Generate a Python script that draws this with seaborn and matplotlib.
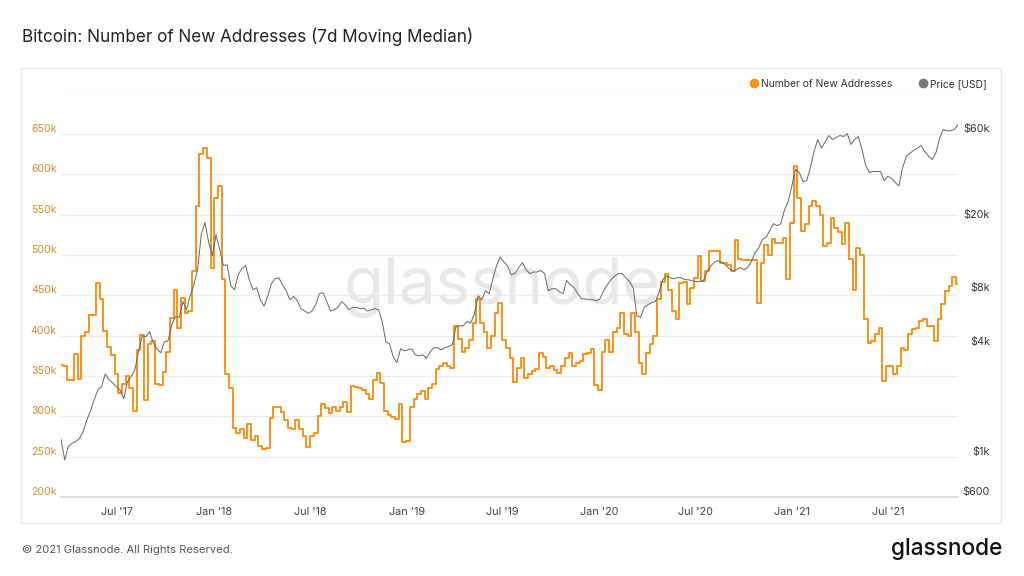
import matplotlib.pyplot as plt
import matplotlib.patches as patches
from matplotlib.lines import Line2D
from matplotlib.ticker import NullLocator
import pandas as pd
import seaborn as sns


# Weekly readings, starting mid-March 2017
new_addresses_k = [
    363, 362, 345, 345, 377, 346, 400, 405, 425, 425,
    465, 445, 406, 386, 376, 353, 329, 340, 350, 335,
    307, 382, 401, 320, 390, 393, 340, 339, 355, 380,
    422, 456, 410, 447, 428, 430, 480, 560, 625, 632,
    620, 484, 570, 585, 470, 352, 335, 285, 279, 284,
    273, 290, 271, 275, 263, 259, 261, 298, 312, 312,
    305, 295, 286, 284, 296, 284, 276, 262, 276, 279,
    300, 315, 310, 304, 312, 307, 312, 318, 305, 338,
    336, 335, 332, 328, 322, 345, 354, 341, 306, 302,
    299, 297, 315, 268, 270, 311, 322, 328, 331, 322,
    335, 340, 359, 362, 366, 362, 360, 412, 396, 380,
    385, 395, 416, 445, 415, 405, 385, 400, 428, 440,
    395, 385, 372, 342, 360, 372, 348, 352, 356, 358,
    379, 373, 360, 362, 357, 354, 362, 372, 378, 362,
    366, 368, 377, 378, 383, 339, 333, 380, 395, 380,
    405, 410, 428, 402, 400, 428, 405, 366, 353, 378,
    389, 400, 445, 467, 476, 457, 430, 420, 465, 467,
    439, 459, 471, 499, 468, 480, 505, 505, 505, 490,
    490, 488, 480, 519, 495, 494, 494, 494, 494, 441,
    490, 512, 500, 520, 515, 515, 521, 470, 540, 610,
    571, 530, 538, 560, 567, 560, 550, 511, 515, 546,
    533, 528, 513, 540, 495, 457, 509, 500, 420, 391,
    393, 402, 410, 344, 362, 362, 353, 362, 385, 382,
    402, 408, 410, 418, 420, 412, 412, 393, 420, 439,
    455, 462, 472, 464,
]

price_usd = [
    1250, 960, 1140, 1185, 1211, 1260, 1375, 1595, 1790, 2056,
    2340, 2430, 2860, 2650, 2550, 2430, 2334, 2080, 2590, 2760,
    3009, 3780, 4630, 4580, 4880, 4230, 3930, 3730, 4290, 4350,
    5330, 5900, 5850, 7150, 6450, 7700, 8850, 10700, 16700, 19500,
    15100, 12800, 16700, 13800, 11300, 11400, 8740, 8310, 10050, 10850,
    11300, 9430, 8310, 8530, 7320, 6740, 7640, 8970, 9550, 9680,
    8850, 8200, 7320, 7640, 7230, 6530, 6340, 6160, 6340, 6870,
    7900, 8000, 7150, 6340, 6450, 6650, 7150, 6870, 6450, 6650,
    6650, 6530, 6590, 6340, 6450, 6530, 6450, 5560, 4290, 4190,
    3540, 3300, 3930, 3830, 3880, 3930, 3640, 3590, 3640, 3480,
    3780, 3980, 3980, 3880, 3980, 4040, 4130, 5200, 5260, 5260,
    5560, 5440, 6130, 7700, 7320, 8200, 7900, 9550, 11300, 12600,
    11800, 11200, 10050, 10200, 11000, 11700, 10700, 10200, 10400, 10400,
    10600, 10200, 8200, 8420, 8420, 8090, 7900, 9320, 8850, 8530,
    7900, 7400, 7400, 7320, 7320, 7230, 7400, 8200, 8850, 9430,
    9900, 10200, 10200, 9680, 9200, 8530, 5970, 5850, 6650, 6870,
    7050, 7150, 8000, 9430, 9900, 9680, 9550, 9680, 9680, 9430,
    9430, 9300, 9200, 9200, 9300, 10400, 11200, 11800, 12000, 11800,
    11400, 10850, 10550, 10700, 11000, 10700, 11000, 11850, 13300, 14100,
    15700, 16100, 17600, 19200, 18700, 19200, 22900, 25400, 31100, 38100,
    36700, 32700, 33100, 39100, 47900, 55800, 50100, 54100, 58700, 55800,
    57200, 58700, 58000, 60100, 52400, 55800, 58000, 49100, 40100, 36700,
    37200, 37200, 37200, 33100, 35000, 34200, 32300, 31000, 39100, 45000,
    47000, 48600, 50100, 51700, 47900, 45200, 43300, 47000, 56500, 63300,
    62400, 62400, 63300, 67500,
]

dates = pd.date_range("2017-03-16", periods=len(new_addresses_k), freq="7D")

left_ticks = [200, 250, 300, 350, 400, 450, 500, 550, 600, 650, 700]
left_labels = ["200k", "250k", "300k", "350k", "400k", "450k",
               "500k", "550k", "600k", "650k", ""]
price_ticks = [600, 1000, 4000, 8000, 20000, 60000]
price_labels = ["$600", "$1k", "$4k", "$8k", "$20k", "$60k"]
month_ticks = ["2017-07-01", "2018-01-01", "2018-07-01", "2019-01-01", "2019-07-01",
               "2020-01-01", "2020-07-01", "2021-01-01", "2021-07-01"]
month_labels = ["Jul '17", "Jan '18", "Jul '18", "Jan '19", "Jul '19",
                "Jan '20", "Jul '20", "Jan '21", "Jul '21"]

df = pd.DataFrame({"date": dates, "new_addresses": new_addresses_k, "price": price_usd})

ORANGE = "#f7931a"
ORANGE_TXT = "#dd8a2c"
GREY = "#666666"

sns.set_theme(style="white")
plt.rcParams["font.family"] = ["Inter", "DejaVu Sans"]

fig = plt.figure(figsize=(10.24, 5.76), dpi=100)
ax = fig.add_axes([61 / 1024, 1 - 497 / 576, 897 / 1024, 403.5 / 576])

# panel frame
fig.patches.append(patches.Rectangle((21 / 1024, 1 - 523 / 576), 980 / 1024, 455 / 576,
                                     transform=fig.transFigure, fill=False,
                                     edgecolor="#e6e6e6", linewidth=1))

# watermark
ax.text(0.492, 0.52, "glassnode", transform=ax.transAxes, ha="center", va="center",
        fontsize=47, color="#e8e8e8", zorder=1)

sns.lineplot(data=df, x="date", y="new_addresses", ax=ax, color=ORANGE, linewidth=1.4,
             drawstyle="steps-mid", zorder=3)
ax2 = ax.twinx()
sns.lineplot(data=df, x="date", y="price", ax=ax2, color=GREY, linewidth=0.7)
ax2.set_yscale("log")
ax2.set_ylim(600, 100000)
ax.set_ylim(200, 700)
ax.set_xlim(dates[0], dates[-1])

# left axis
ax.set_yticks(left_ticks)
ax.set_yticklabels(left_labels, color=ORANGE_TXT, fontsize=7.6)
ax.tick_params(axis="y", length=0, pad=3)
for lbl in ax.get_yticklabels():
    lbl.set_verticalalignment("bottom")

# right axis (price)
ax2.yaxis.set_minor_locator(NullLocator())
ax2.set_yticks(price_ticks)
ax2.set_yticklabels(price_labels, color="#333333", fontsize=7.8)
ax2.tick_params(axis="y", length=0, pad=23)
for lbl in ax2.get_yticklabels():
    lbl.set_horizontalalignment("right")
    lbl.set_verticalalignment("bottom")

# x axis
ax.set_xticks(pd.to_datetime(month_ticks))
ax.set_xticklabels(month_labels)
ax.tick_params(axis="x", length=4, width=0.8, color="#d9d9d9", labelsize=7.8,
               labelcolor="#444444", pad=3)

ax.grid(axis="y", color="#ececec", linewidth=0.8)
ax.grid(axis="x", visible=False)
for s in ax.spines.values():
    s.set_visible(False)
ax.spines["bottom"].set_visible(True)
ax.spines["bottom"].set_color("#dcdcdc")
for s in ax2.spines.values():
    s.set_visible(False)

ax.set_xlabel("")
ax.set_ylabel("")
ax2.set_ylabel("")

# legend
handles = [Line2D([], [], marker="o", linestyle="", color=ORANGE, markersize=6),
           Line2D([], [], marker="o", linestyle="", color="#777777", markersize=6)]
fig.legend(handles, ["Number of New Addresses", "Price [USD]"], loc="center right",
           bbox_to_anchor=(996 / 1024, 1 - 84 / 576), ncol=2, frameon=False, fontsize=7.4,
           handletextpad=0.2, columnspacing=2.5, handlelength=1.0, labelcolor="#333333")

# title and footer
fig.text(22 / 1024, 1 - 37 / 576, "Bitcoin: Number of New Addresses (7d Moving Median)",
         fontsize=12.3, color="#222222", va="center")
fig.text(22 / 1024, 1 - 550 / 576, "\u00a9 2021 Glassnode. All Rights Reserved.",
         fontsize=8.1, color="#555555", va="center")
fig.text(1002 / 1024, 1 - 549 / 576, "glassnode", fontsize=16.3, color="#111111",
         ha="right", va="center", fontweight="medium")

fig.savefig("out.png", dpi=100)
